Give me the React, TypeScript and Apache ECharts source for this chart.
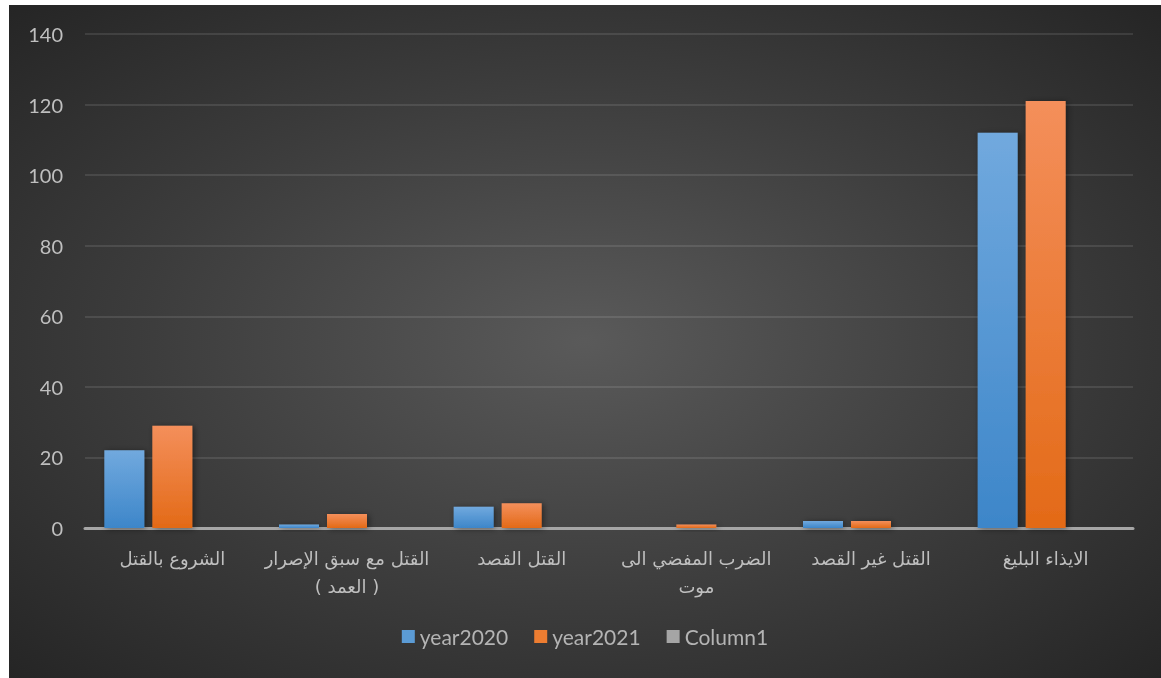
import React, { useEffect, useRef } from "react";
import * as echarts from "echarts";

const categories = [
  "الشروع بالقتل",
  "القتل مع سبق الإصرار\n( العمد )",
  "القتل القصد",
  "الضرب المفضي الى\nموت",
  "القتل غير القصد",
  "الايذاء البليغ",
];
const year2020 = [22, 1, 6, 0, 2, 112];
const year2021 = [29, 4, 7, 1, 2, 121];
const column1: (number | null)[] = [null, null, null, null, null, null];
const yTicks = { min: 0, max: 140, interval: 20 };

const latin = "Lato, 'Open Sans', 'DejaVu Sans', sans-serif";
const arabic = "'DejaVu Sans', Arial, sans-serif";

export default function App() {
  const ref = useRef<HTMLDivElement>(null);
  useEffect(() => {
    if (!ref.current) return;
    const chart = echarts.init(ref.current, undefined, { renderer: "svg" });
    const grad = (top: string, bottom: string) =>
      new echarts.graphic.LinearGradient(0, 0, 0, 1, [
        { offset: 0, color: top },
        { offset: 1, color: bottom },
      ]);
    const shadow = {
      shadowBlur: 6,
      shadowColor: "rgba(0,0,0,0.45)",
      shadowOffsetX: 2,
      shadowOffsetY: 1,
    };
    chart.setOption({
      animation: false,
      backgroundColor: "transparent",
      grid: { left: 76, right: 28, top: 29, bottom: 150, containLabel: false },
      legend: {
        bottom: 26,
        left: "center",
        icon: "rect",
        itemWidth: 13,
        itemHeight: 13,
        itemGap: 26,
        textStyle: { color: "#b4b4b4", fontSize: 21, fontFamily: latin },
        data: [
          { name: "year2020", itemStyle: { color: "#5b9bd5" } },
          { name: "year2021", itemStyle: { color: "#ed7d31" } },
          { name: "Column1", itemStyle: { color: "#a5a5a5" } },
        ],
      },
      xAxis: {
        type: "category",
        data: categories,
        axisTick: { show: false },
        axisLine: { lineStyle: { color: "#a6a6a6", width: 3 } },
        axisLabel: {
          color: "#bfbfbf",
          fontSize: 18,
          fontFamily: arabic,
          lineHeight: 28,
          margin: 16,
          interval: 0,
        },
      },
      yAxis: {
        type: "value",
        min: yTicks.min,
        max: yTicks.max,
        interval: yTicks.interval,
        axisLine: { show: false },
        axisTick: { show: false },
        axisLabel: {
          color: "#bfbfbf",
          fontSize: 20,
          fontFamily: latin,
          margin: 22,
        },
        splitLine: { lineStyle: { color: "rgba(255,255,255,0.1)", width: 2 } },
      },
      series: [
        {
          name: "year2020",
          type: "bar",
          data: year2020,
          barWidth: 40,
          barGap: "20%",
          itemStyle: { color: grad("#71a9de", "#3d86c9"), ...shadow },
        },
        {
          name: "year2021",
          type: "bar",
          data: year2021,
          barWidth: 40,
          barGap: "20%",
          itemStyle: { color: grad("#f48f5b", "#e36a17"), ...shadow },
        },
        {
          name: "Column1",
          type: "bar",
          data: column1,
          barWidth: 40,
          barGap: "20%",
          itemStyle: { color: grad("#bdbdbd", "#9a9a9a"), ...shadow },
        },
      ],
    });
    return () => chart.dispose();
  }, []);
  return (
    <div
      style={{
        position: "fixed",
        left: 9,
        top: 5,
        width: 1152,
        height: 673,
        background:
          "radial-gradient(ellipse farthest-corner at 50% 50%, #5a5a5a 0%, #3c3c3c 55%, #252525 100%)",
      }}
    >
      <div ref={ref} style={{ width: 1152, height: 673 }} />
    </div>
  );
}
